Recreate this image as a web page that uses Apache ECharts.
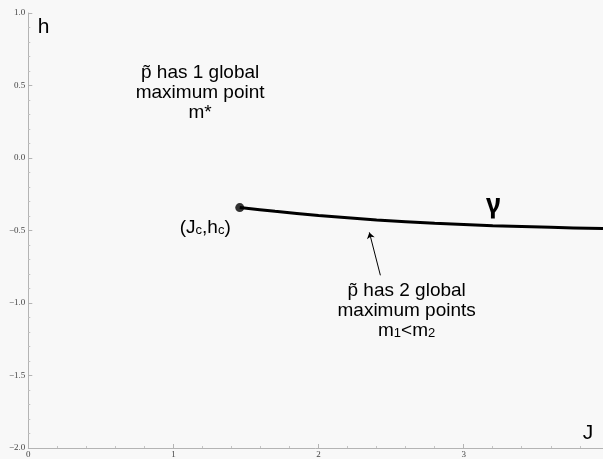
<!DOCTYPE html>
<html>
  <head>
    <meta charset="utf-8">
    <title>gamma curve</title>
    <script src="https://cdn.jsdelivr.net/npm/echarts@6/dist/echarts.min.js"></script>
  </head>
  <body style="margin:0;background:#f8f8f8">
    <div id="main" style="width:603px;height:459px;"></div>
    <script>
// curve gamma (J, h)
var curveJ = [1.457, 1.7, 2.0, 2.4, 2.8, 3.2, 3.6, 3.96];
var curveH = [-0.342, -0.368, -0.396, -0.427, -0.450, -0.467, -0.478, -0.487];
var endPoint = [1.457, -0.342];
// arrow from label to curve
var arrowFrom = [2.426, -0.809];
var arrowTo = [2.350, -0.513];

var xTicks = [0, 1, 2, 3];
var yTicks = [-2.0, -1.5, -1.0, -0.5, 0.0, 0.5, 1.0];

var curve = curveJ.map(function (j, i) { return [j, curveH[i]]; });

var myChart = echarts.init(document.getElementById('main'));

var tickFont = {fontFamily: 'Liberation Serif', fontSize: 9, color: '#444'};

myChart.setOption({
    backgroundColor: '#f8f8f8',
    animation: false,
    grid: {left: 28.3, top: 13, right: 0, bottom: 11},
    xAxis: {
        type: 'value', min: 0, max: 3.96, interval: 1,
        axisLine: {onZero: false, lineStyle: {color: '#b4b4b4'}},
        axisTick: {inside: true, length: 4, lineStyle: {color: '#b4b4b4'}},
        minorTick: {show: true, splitNumber: 5, length: 2, lineStyle: {color: '#c4c4c4'}},
        splitLine: {show: false},
        axisLabel: Object.assign({
            margin: 2, showMaxLabel: false,
            formatter: function (v) { return xTicks.indexOf(v) >= 0 ? String(v) : ''; }
        }, tickFont)
    },
    yAxis: {
        type: 'value', min: -2, max: 1, interval: 0.5,
        axisLine: {show: true, onZero: false, lineStyle: {color: '#b4b4b4'}},
        axisTick: {show: true, inside: true, length: 4, lineStyle: {color: '#b4b4b4'}},
        minorTick: {show: true, splitNumber: 5, length: 2, lineStyle: {color: '#c4c4c4'}},
        splitLine: {show: false},
        axisLabel: Object.assign({
            margin: 3,
            formatter: function (v) { return yTicks.indexOf(v) >= 0 ? v.toFixed(1).replace('-', '\u2212') : ''; }
        }, tickFont)
    },
    series: [{
        type: 'line',
        data: curve,
        smooth: 0.3,
        showSymbol: false,
        lineStyle: {color: '#000', width: 3}
    }, {
        type: 'scatter',
        data: [endPoint],
        symbolSize: 9,
        itemStyle: {color: '#000'}
    }, {
        type: 'lines',
        coordinateSystem: 'cartesian2d',
        data: [{coords: [arrowFrom, arrowTo]}],
        symbol: ['none', 'arrow'],
        symbolSize: 6,
        lineStyle: {color: '#000', width: 1, opacity: 1}
    }]
});

// annotation texts in data coordinates
var labels = [
    {at: [1.184, 0.453], text: 'p\u0303 has 1 global\nmaximum point\nm*', size: 19},
    {at: [2.607, -1.051], text: '{a|p\u0303 has 2 global}\n{a|maximum points}\n{a|m}{s|1}{a|<m}{s|2}', size: 19, rich: true},
    {at: [1.219, -0.478], text: '{a|(J}{s|c}{a|,h}{s|c}{a|)}', size: 19, rich: true},
    {at: [0.105, 0.905], text: 'h', size: 21},
    {at: [3.857, -1.899], text: 'J', size: 21},
    {at: [3.205, -0.33], text: '\u03b3', size: 26, bold: true, font: 'Noto Sans'}
];

var graphics = labels.map(function (l) {
    var p = myChart.convertToPixel({gridIndex: 0}, l.at);
    var style = {
        text: l.text, x: p[0], y: p[1], align: 'center', verticalAlign: 'middle',
        fontFamily: l.font || 'Liberation Sans', fontSize: l.size, lineHeight: 20,
        fontWeight: l.bold ? 'bold' : 'normal', fill: '#000'
    };
    if (l.rich) {
        style.rich = {
            a: {fontFamily: 'Liberation Sans', fontSize: l.size, lineHeight: 20, fill: '#000'},
            s: {fontFamily: 'Liberation Sans', fontSize: 13, lineHeight: 20, fill: '#000', verticalAlign: 'bottom', padding: [10, 0, 0, 0]}
        };
    }
    return {type: 'text', style: style, z: 100};
});
myChart.setOption({graphic: graphics});
    </script>
  </body>
</html>
